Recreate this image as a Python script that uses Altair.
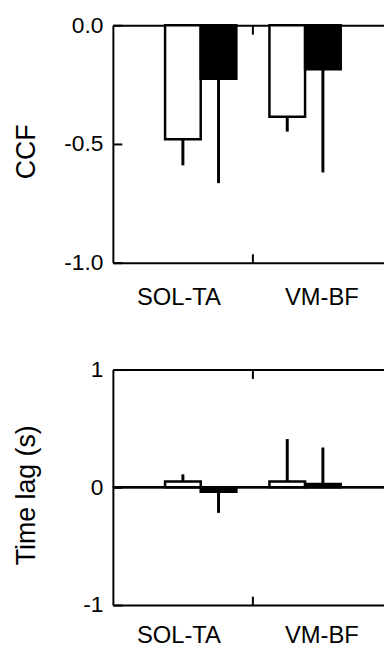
import altair as alt
import pandas as pd

# ---- data ----
muscles = ["SOL-TA", "VM-BF"]
groups = ["Group 1", "Group 2"]          # open bars, filled bars
ccf_mean = [-0.48, -0.225, -0.385, -0.185]
ccf_sd = [0.11, 0.44, 0.063, 0.435]
lag_mean = [0.05, -0.037, 0.05, 0.028]
lag_sd = [0.06, 0.18, 0.36, 0.31]
ccf_ticks = [-1.0, -0.5, 0.0]
lag_ticks = [-1, 0, 1]


def make_df(means, sds):
    rows = []
    i = 0
    for m in muscles:
        for g in groups:
            v, s = means[i], sds[i]
            tip = v - s if v < 0 else v + s
            rows.append({"muscle": m, "group": g, "value": v, "tip": tip})
            i += 1
    return pd.DataFrame(rows)


FONT = "Liberation Sans"
W = 283
BANDPOS = 1.232

xscale = alt.Scale(domain=muscles, paddingInner=0.317, paddingOuter=0.5)
off_scale = alt.Scale(domain=groups, paddingInner=0, paddingOuter=0)
label_offset = {"condition": {"test": "datum.value == 'SOL-TA'", "value": -22}, "value": 17}


def panel(df, domain, tick_vals, fmt, title, title_y, zero_line, height, xlab_pad):
    yscale = alt.Scale(domain=domain, nice=False)
    base = alt.Chart(df)
    lab_expr = "replace(format(datum.value, '" + fmt + "'), '\u2212', '-')"

    def xenc(axis):
        return alt.X("muscle:N", scale=xscale, axis=axis)

    bars = base.mark_bar(stroke="black", strokeWidth=2.5).encode(
        x=xenc(alt.Axis(orient="bottom", title=None, ticks=False, domain=True,
                        domainColor="black", domainWidth=2, labelFont=FONT,
                        labelFontSize=24, labelColor="black", labelPadding=xlab_pad,
                        labelAngle=0, labelOffset=label_offset, grid=False)),
        xOffset=alt.XOffset("group:N", scale=off_scale),
        y=alt.Y("value:Q", scale=yscale,
                axis=alt.Axis(orient="left", values=tick_vals, labelExpr=lab_expr,
                              offset=-9, tickSize=9, tickWidth=2, tickColor="black",
                              domain=False, labelFont=FONT, labelFontSize=23,
                              labelColor="black", labelPadding=10, title=None,
                              grid=False)),
        y2=alt.datum(0),
        color=alt.Color("group:N", scale=alt.Scale(domain=groups, range=["white", "black"]),
                        legend=None),
    )

    errs = base.mark_rule(color="black", strokeWidth=3).encode(
        x=xenc(alt.Axis(orient="top", title=None, ticks=False, labels=False, domain=True,
                        domainColor="black", domainWidth=2, grid=False)),
        xOffset=alt.XOffset("group:N", scale=off_scale),
        y=alt.Y("value:Q", scale=yscale,
                axis=alt.Axis(orient="right", values=tick_vals, offset=-9, tickSize=9,
                              tickWidth=2, tickColor="black", domain=False, labels=False,
                              title=None, grid=False)),
        y2="tip:Q",
    )

    frame1 = base.mark_point(opacity=0, size=1).encode(
        x=xenc(alt.Axis(orient="bottom", values=["SOL-TA"], bandPosition=BANDPOS, offset=-9,
                        tickSize=9, tickWidth=2, tickColor="black", labels=False,
                        domain=False, title=None, grid=False)),
        y=alt.Y("value:Q", scale=yscale,
                axis=alt.Axis(orient="left", ticks=False, labels=False, domain=True,
                              domainColor="black", domainWidth=2, title=title,
                              titleFont=FONT, titleFontSize=27, titleFontWeight="normal",
                              titleColor="black", titleAngle=270, titleBaseline="bottom",
                              titleAlign="center", titleX=-73, titleY=title_y, grid=False)),
    )

    frame2 = base.mark_point(opacity=0, size=1).encode(
        x=xenc(alt.Axis(orient="top", values=["SOL-TA"], bandPosition=BANDPOS, offset=-9,
                        tickSize=9, tickWidth=2, tickColor="black", labels=False,
                        domain=False, title=None, grid=False)),
        y=alt.Y("value:Q", scale=yscale, axis=None),
    )

    layers = []
    if zero_line:
        layers.append(alt.Chart(df).mark_rule(color="black", strokeWidth=2).encode(
            y=alt.YDatum(0, scale=yscale, axis=None)))
    layers += [bars, errs, frame1, frame2]
    return alt.layer(*layers).resolve_axis(x="independent", y="independent").properties(
        width=W, height=height)


top = panel(make_df(ccf_mean, ccf_sd), [-1.0, 0.0], ccf_ticks, ".1f", "CCF", 127.5,
            False, 240, 23)
bottom = panel(make_df(lag_mean, lag_sd), [-1, 1], lag_ticks, "d", "Time lag (s)", 126.5,
               True, 238, 19)

chart = alt.vconcat(top, bottom, spacing=50).properties(
    padding={"left": 5, "top": 3, "right": -10, "bottom": -3}
).configure_view(stroke=None)

chart.save("out.html", embed_options={"renderer": "svg", "actions": False})
